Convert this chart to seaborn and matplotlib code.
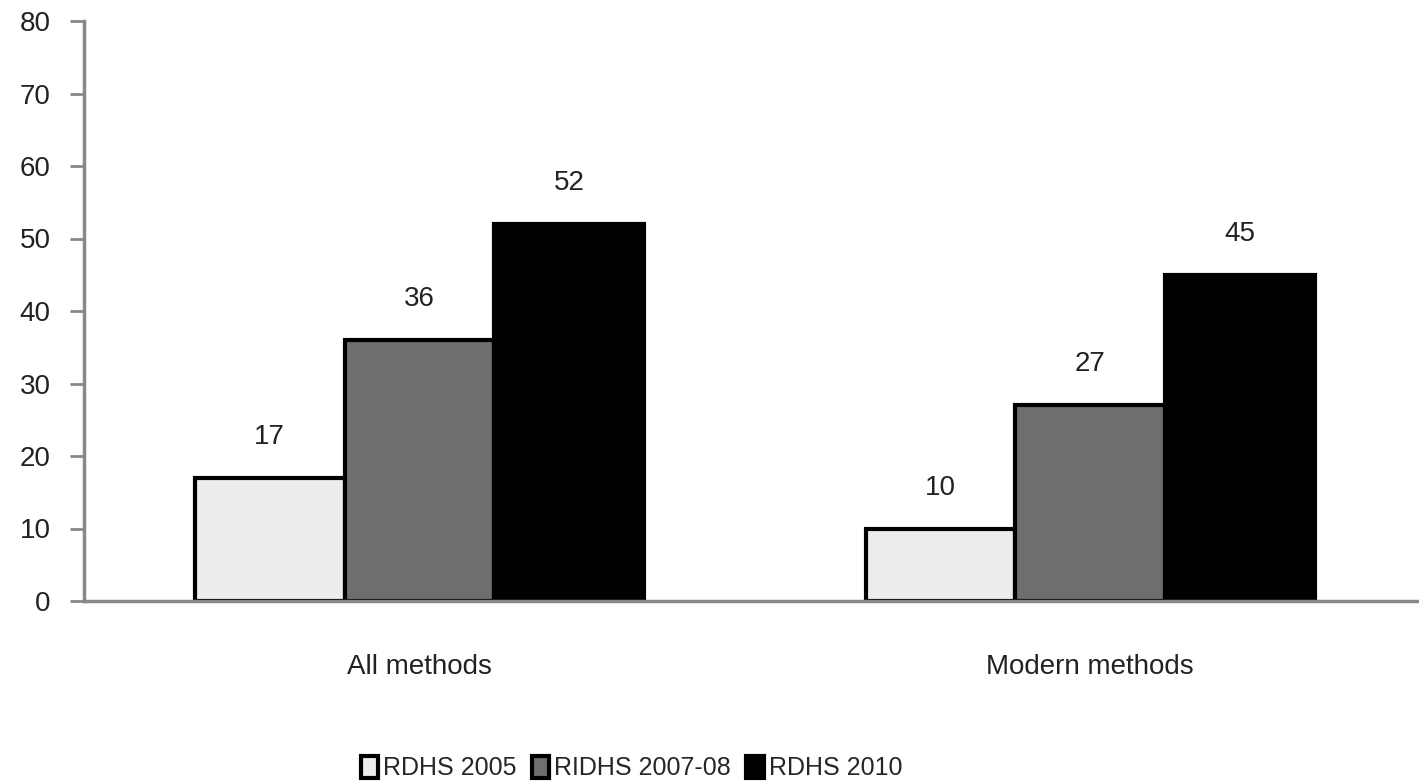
import matplotlib
matplotlib.use("Agg")
import matplotlib.pyplot as plt
import seaborn as sns
import pandas as pd

categories = ["All methods", "Modern methods"]
surveys = ["RDHS 2005", "RIDHS 2007-08", "RDHS 2010"]
rdhs_2005 = [17, 10]
ridhs_2007_08 = [36, 27]
rdhs_2010 = [52, 45]
y_ticks = [0, 10, 20, 30, 40, 50, 60, 70, 80]

colors = ["#ededed", "#6e6e6e", "#000000"]

rows = []
for survey, vals in zip(surveys, [rdhs_2005, ridhs_2007_08, rdhs_2010]):
    for cat, v in zip(categories, vals):
        rows.append({"Category": cat, "Survey": survey, "Value": v})
df = pd.DataFrame(rows)

sns.set_theme(style="white")
plt.rcParams["font.family"] = ["Liberation Sans", "DejaVu Sans"]

fig = plt.figure(figsize=(14.19, 7.83), dpi=100)
ax = fig.add_axes([84 / 1419, (783 - 601) / 783, 1 - 84 / 1419, 580 / 783])

sns.barplot(data=df, x="Category", y="Value", hue="Survey",
            hue_order=surveys, palette=colors, width=0.67,
            edgecolor="black", linewidth=3, ax=ax, legend=True)

for cont in ax.containers:
    ax.bar_label(cont, padding=20, fontsize=20, color="#222222")

ax.set_ylim(0, 80)
ax.set_xlim(-0.5, 1.49)
ax.set_yticks(y_ticks)
ax.set_yticklabels([str(t) for t in y_ticks], fontsize=20, color="#222222")
ax.tick_params(axis="y", direction="out", length=10, width=2, color="#888888",
               left=True, pad=14)
ax.tick_params(axis="x", length=0, pad=38, labelsize=20, labelcolor="#222222")
ax.set_xlabel("")
ax.set_ylabel("")

for side in ["top", "right"]:
    ax.spines[side].set_visible(False)
for side in ["left", "bottom"]:
    ax.spines[side].set_color("#888888")
    ax.spines[side].set_linewidth(2.5)

handles, labels = ax.get_legend_handles_labels()
ax.get_legend().remove()
fig.legend(handles, labels, loc="center", bbox_to_anchor=(0.445, 0.019),
           ncol=3, frameon=False, fontsize=18, handlelength=0.7,
           handleheight=1.0, columnspacing=0.6, handletextpad=0.2)

fig.savefig("out.png", dpi=100)
